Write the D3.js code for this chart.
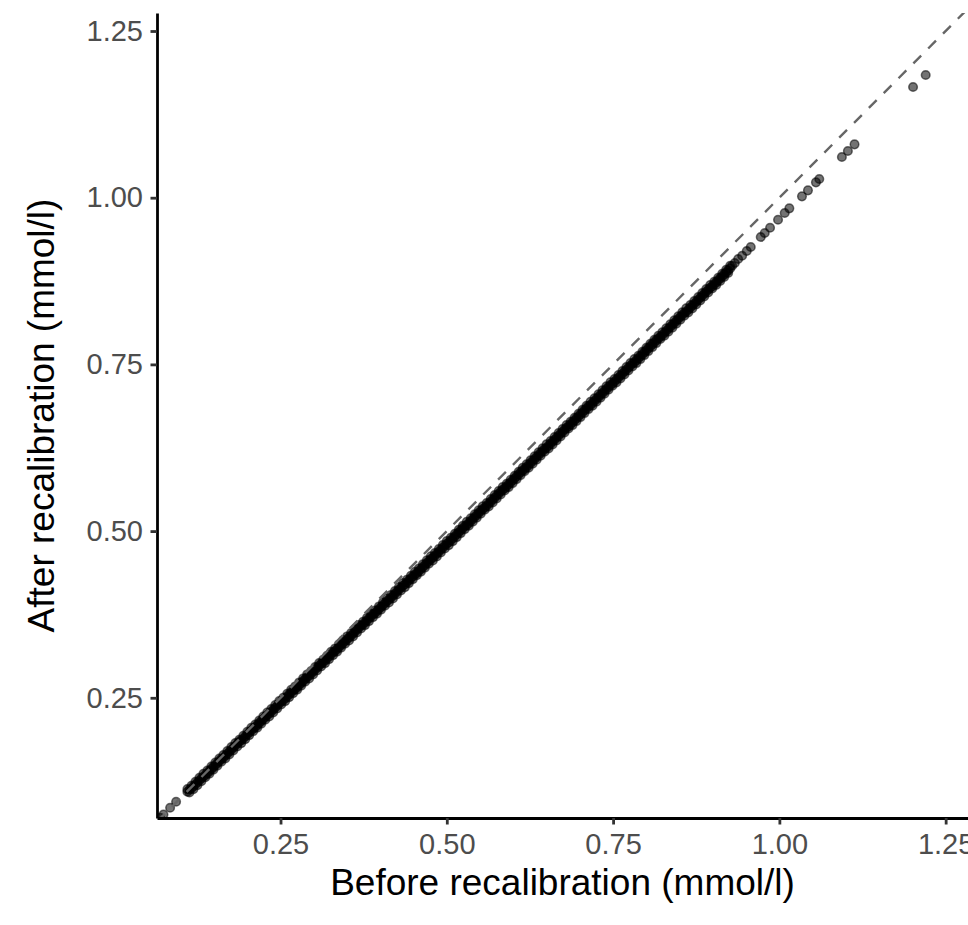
<!DOCTYPE html>
<html>
<head>
<meta charset="utf-8">
<script src="https://cdn.jsdelivr.net/npm/d3@7"></script>
<style>
  body { margin: 0; background: #fff; }
  text { font-family: "Liberation Sans", Arial, Helvetica, sans-serif; }
</style>
</head>
<body>
<div id="chart"></div>
<script>
// isolated points near the origin
const lowBefore = [0.069, 0.074, 0.084, 0.093];
const lowAfter  = [0.070, 0.075, 0.085, 0.094];

// the dense band of points (estimated)
const bandBefore = [
  0.110,0.113,0.116,0.119,0.122,0.125,0.128,0.131,0.134,0.137,
  0.140,0.143,0.146,0.149,0.152,0.155,0.158,0.161,0.164,0.167,
  0.170,0.173,0.176,0.179,0.182,0.185,0.188,0.191,0.194,0.197,
  0.200,0.203,0.206,0.209,0.212,0.215,0.218,0.221,0.224,0.227,
  0.230,0.233,0.236,0.239,0.242,0.245,0.248,0.251,0.254,0.257,
  0.260,0.263,0.266,0.269,0.272,0.275,0.278,0.281,0.284,0.287,
  0.290,0.293,0.296,0.299,0.302,0.305,0.308,0.311,0.314,0.317,
  0.320,0.323,0.326,0.329,0.332,0.335,0.338,0.341,0.344,0.347,
  0.350,0.353,0.356,0.359,0.362,0.365,0.368,0.371,0.374,0.377,
  0.380,0.383,0.386,0.389,0.392,0.395,0.398,0.401,0.404,0.407,
  0.410,0.413,0.416,0.419,0.422,0.425,0.428,0.431,0.434,0.437,
  0.440,0.443,0.446,0.449,0.452,0.455,0.458,0.461,0.464,0.467,
  0.470,0.473,0.476,0.479,0.482,0.485,0.488,0.491,0.494,0.497,
  0.500,0.503,0.506,0.509,0.512,0.515,0.518,0.521,0.524,0.527,
  0.530,0.533,0.536,0.539,0.542,0.545,0.548,0.551,0.554,0.557,
  0.560,0.563,0.566,0.569,0.572,0.575,0.578,0.581,0.584,0.587,
  0.590,0.593,0.596,0.599,0.602,0.605,0.608,0.611,0.614,0.617,
  0.620,0.623,0.626,0.629,0.632,0.635,0.638,0.641,0.644,0.647,
  0.650,0.653,0.656,0.659,0.662,0.665,0.668,0.671,0.674,0.677,
  0.680,0.683,0.686,0.689,0.692,0.695,0.698,0.701,0.704,0.707,
  0.710,0.713,0.716,0.719,0.722,0.725,0.728,0.731,0.734,0.737,
  0.740,0.743,0.746,0.749,0.752,0.755,0.758,0.761,0.764,0.767,
  0.770,0.773,0.776,0.779,0.782,0.785,0.788,0.791,0.794,0.797,
  0.800,0.803,0.806,0.809,0.812,0.815,0.818,0.821,0.824,0.827,
  0.830,0.833,0.836,0.839,0.842,0.845,0.848,0.851,0.854,0.857,
  0.860,0.863,0.866,0.869,0.872,0.875,0.878,0.881,0.884,0.887,
  0.890,0.893,0.896,0.899,0.902,0.905,0.908,0.911,0.914,0.917,
  0.920,0.923,0.926
];
// upper / lower edges of the band (alternating)
const bandAfter = [
  0.113,0.108,0.118,0.113,0.124,0.119,0.130,0.125,0.136,0.131,
  0.141,0.136,0.147,0.142,0.153,0.148,0.159,0.154,0.164,0.159,
  0.170,0.165,0.176,0.171,0.182,0.177,0.187,0.182,0.193,0.188,
  0.199,0.194,0.205,0.200,0.210,0.205,0.216,0.211,0.222,0.217,
  0.228,0.222,0.233,0.228,0.239,0.234,0.245,0.240,0.250,0.245,
  0.256,0.251,0.262,0.257,0.267,0.262,0.273,0.268,0.279,0.274,
  0.285,0.279,0.290,0.285,0.296,0.291,0.302,0.297,0.307,0.302,
  0.313,0.308,0.319,0.314,0.324,0.319,0.330,0.325,0.336,0.331,
  0.342,0.336,0.347,0.342,0.353,0.348,0.359,0.354,0.364,0.359,
  0.370,0.365,0.376,0.371,0.381,0.376,0.387,0.382,0.393,0.388,
  0.399,0.393,0.404,0.399,0.410,0.405,0.416,0.411,0.422,0.416,
  0.427,0.422,0.433,0.428,0.439,0.434,0.444,0.439,0.450,0.445,
  0.456,0.451,0.462,0.456,0.467,0.462,0.473,0.468,0.479,0.474,
  0.485,0.479,0.490,0.485,0.496,0.491,0.502,0.497,0.508,0.503,
  0.514,0.508,0.519,0.514,0.525,0.520,0.531,0.526,0.537,0.532,
  0.542,0.537,0.548,0.543,0.554,0.549,0.560,0.555,0.566,0.561,
  0.571,0.566,0.577,0.572,0.583,0.578,0.589,0.584,0.595,0.590,
  0.600,0.595,0.606,0.601,0.612,0.607,0.618,0.613,0.624,0.619,
  0.630,0.624,0.635,0.630,0.641,0.636,0.647,0.642,0.653,0.648,
  0.659,0.654,0.664,0.659,0.670,0.665,0.676,0.671,0.682,0.677,
  0.688,0.683,0.694,0.688,0.699,0.694,0.705,0.700,0.711,0.706,
  0.717,0.712,0.723,0.718,0.728,0.723,0.734,0.729,0.740,0.735,
  0.746,0.741,0.752,0.747,0.758,0.752,0.763,0.758,0.769,0.764,
  0.775,0.770,0.781,0.776,0.787,0.782,0.793,0.788,0.798,0.793,
  0.804,0.799,0.810,0.805,0.816,0.811,0.822,0.817,0.828,0.823,
  0.834,0.828,0.839,0.834,0.845,0.840,0.851,0.846,0.857,0.852,
  0.863,0.858,0.869,0.864,0.874,0.869,0.880,0.875,0.886,0.881,
  0.892,0.887,0.898
];
// middle of the band, same before values
const bandMidAfter = [
  0.109,0.112,0.114,0.117,0.120,0.123,0.126,0.129,0.132,0.134,
  0.137,0.140,0.143,0.146,0.149,0.152,0.155,0.158,0.160,0.163,
  0.166,0.169,0.172,0.175,0.178,0.181,0.184,0.186,0.189,0.192,
  0.195,0.198,0.201,0.204,0.206,0.209,0.212,0.215,0.218,0.221,
  0.224,0.226,0.229,0.232,0.235,0.238,0.241,0.244,0.246,0.249,
  0.252,0.255,0.258,0.261,0.263,0.266,0.269,0.272,0.275,0.278,
  0.281,0.283,0.286,0.289,0.292,0.295,0.298,0.301,0.303,0.306,
  0.309,0.312,0.315,0.318,0.320,0.323,0.326,0.329,0.332,0.335,
  0.338,0.340,0.343,0.346,0.349,0.352,0.355,0.358,0.360,0.363,
  0.366,0.369,0.372,0.375,0.377,0.380,0.383,0.386,0.389,0.392,
  0.395,0.397,0.400,0.403,0.406,0.409,0.412,0.415,0.418,0.420,
  0.423,0.426,0.429,0.432,0.435,0.437,0.440,0.443,0.446,0.449,
  0.452,0.455,0.458,0.460,0.463,0.466,0.469,0.472,0.475,0.478,
  0.481,0.483,0.486,0.489,0.492,0.495,0.498,0.501,0.504,0.507,
  0.509,0.512,0.515,0.518,0.521,0.524,0.527,0.530,0.533,0.535,
  0.538,0.541,0.544,0.547,0.550,0.553,0.556,0.559,0.562,0.564,
  0.567,0.570,0.573,0.576,0.579,0.582,0.585,0.588,0.591,0.593,
  0.596,0.599,0.602,0.605,0.608,0.611,0.614,0.617,0.620,0.623,
  0.625,0.628,0.631,0.634,0.637,0.640,0.643,0.646,0.649,0.652,
  0.655,0.657,0.660,0.663,0.666,0.669,0.672,0.675,0.678,0.681,
  0.684,0.687,0.689,0.692,0.695,0.698,0.701,0.704,0.707,0.710,
  0.713,0.716,0.719,0.721,0.724,0.727,0.730,0.733,0.736,0.739,
  0.742,0.745,0.748,0.751,0.753,0.756,0.759,0.762,0.765,0.768,
  0.771,0.774,0.777,0.780,0.783,0.786,0.789,0.791,0.794,0.797,
  0.800,0.803,0.806,0.809,0.812,0.815,0.818,0.821,0.824,0.827,
  0.829,0.832,0.835,0.838,0.841,0.844,0.847,0.850,0.853,0.856,
  0.859,0.862,0.865,0.867,0.870,0.873,0.876,0.879,0.882,0.885,
  0.888,0.891,0.894
];

// sparse points at the top end
const highBefore = [0.929, 0.933, 0.938, 0.944, 0.951, 0.957, 0.972, 0.978, 0.986, 0.998,
                    1.008, 1.015, 1.034, 1.043, 1.055, 1.060, 1.094, 1.103, 1.113, 1.201, 1.220];
const highAfter  = [0.898, 0.902, 0.908, 0.913, 0.920, 0.926, 0.941, 0.947, 0.955, 0.967,
                    0.977, 0.984, 1.002, 1.011, 1.023, 1.028, 1.061, 1.070, 1.080, 1.166, 1.184];

const xTicks = [0.25, 0.50, 0.75, 1.00, 1.25];
const yTicks = [0.25, 0.50, 0.75, 1.00, 1.25];
const xLimits = [0.0643, 1.2836];
const yLimits = [0.0697, 1.277];

const width = 968;
const height = 925;
const margin = { top: 13, right: 0, bottom: 107, left: 157 };

const svg = d3.select('#chart')
  .append('svg')
  .attr('width', width)
  .attr('height', height);

const x = d3.scaleLinear().domain(xLimits).range([margin.left, width - margin.right]);
const y = d3.scaleLinear().domain(yLimits).range([height - margin.bottom, margin.top]);

// panel clip
svg.append('clipPath')
  .attr('id', 'panel')
  .append('rect')
  .attr('x', margin.left)
  .attr('y', margin.top)
  .attr('width', width - margin.left - margin.right)
  .attr('height', height - margin.top - margin.bottom);

const before = lowBefore.concat(bandBefore, bandBefore, highBefore);
const after = lowAfter.concat(bandAfter, bandMidAfter, highAfter);
const points = d3.range(Math.min(before.length, after.length)).map(i => ({ b: before[i], a: after[i] }));

const plot = svg.append('g').attr('clip-path', 'url(#panel)');

plot.selectAll('circle')
  .data(points)
  .enter()
  .append('circle')
  .attr('cx', d => x(d.b))
  .attr('cy', d => y(d.a))
  .attr('r', 4.3)
  .attr('fill', 'black')
  .attr('fill-opacity', 0.55)
  .attr('stroke', 'black')
  .attr('stroke-opacity', 0.55)
  .attr('stroke-width', 1.5);

// identity line
const lo = Math.min(xLimits[0], yLimits[0]);
const hi = Math.max(xLimits[1], yLimits[1]);
plot.append('path')
  .datum([lo, hi])
  .attr('d', d3.line().x(d => x(d)).y(d => y(d)))
  .attr('fill', 'none')
  .attr('stroke', '#666666')
  .attr('stroke-width', 2.4)
  .attr('stroke-dasharray', '11,10');

// axes
const xAxis = svg.append('g')
  .attr('transform', `translate(0,${height - margin.bottom})`)
  .call(d3.axisBottom(x).tickValues(xTicks).tickFormat(d3.format('.2f'))
    .tickSize(6.5).tickSizeOuter(0).tickPadding(9));

const yAxis = svg.append('g')
  .attr('transform', `translate(${margin.left},0)`)
  .call(d3.axisLeft(y).tickValues(yTicks).tickFormat(d3.format('.2f'))
    .tickSize(6.5).tickSizeOuter(0).tickPadding(7.5));

[xAxis, yAxis].forEach(g => {
  g.select('.domain').attr('stroke', 'black').attr('stroke-width', 2.8);
  g.selectAll('.tick line').attr('stroke', '#333333').attr('stroke-width', 2.8);
  g.selectAll('.tick text')
    .attr('fill', '#4D4D4D')
    .style('font-size', '29px')
    .style('font-family', '"Liberation Sans", Arial, Helvetica, sans-serif');
});

// axis titles
svg.append('text')
  .text('Before recalibration (mmol/l)')
  .attr('x', (margin.left + width - margin.right) / 2)
  .attr('y', 895)
  .attr('text-anchor', 'middle')
  .style('font-size', '37px')
  .attr('fill', 'black');

svg.append('text')
  .text('After recalibration (mmol/l)')
  .attr('transform', `translate(54,${(margin.top + height - margin.bottom) / 2}) rotate(-90)`)
  .attr('text-anchor', 'middle')
  .style('font-size', '37px')
  .attr('fill', 'black');
</script>
</body>
</html>
